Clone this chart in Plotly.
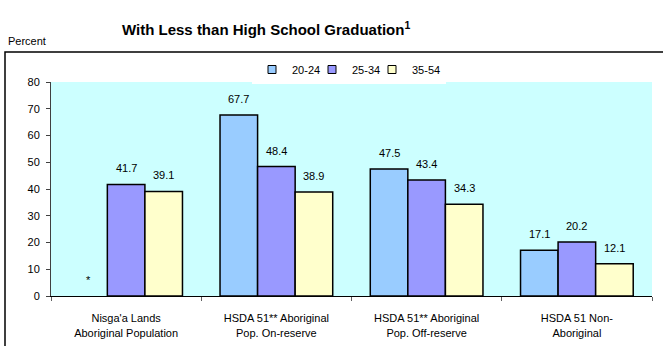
import plotly.graph_objects as go

categories = ["Nisga'a Lands<br>Aboriginal Population",
              "HSDA 51** Aboriginal<br>Pop. On-reserve",
              "HSDA 51** Aboriginal<br>Pop. Off-reserve",
              "HSDA 51 Non-<br>Aboriginal"]
series_names = ["20-24", "25-34", "35-54"]
values_20_24 = [None, 67.7, 47.5, 17.1]
values_25_34 = [41.7, 48.4, 43.4, 20.2]
values_35_54 = [39.1, 38.9, 34.3, 12.1]
y_ticks = [0, 10, 20, 30, 40, 50, 60, 70, 80]

series_values = [values_20_24, values_25_34, values_35_54]
colors = ["#99CCFF", "#9999FF", "#FFFFCC"]
FONT = "Liberation Sans, Arial, sans-serif"
FS = 11

fig = go.Figure()
for name, vals, col in zip(series_names, series_values, colors):
    fig.add_trace(go.Bar(
        x=categories, y=vals, name=name,
        marker=dict(color=col, line=dict(color="#000000", width=1.5)),
        showlegend=False, hoverinfo="skip"))
for k, (name, col) in enumerate(zip(series_names, colors)):
    extra = {"legendwidth": 15} if k < len(series_names) - 1 else {}
    fig.add_trace(go.Scatter(
        x=[None], y=[None], mode="markers", name=name,
        marker=dict(symbol="square", size=8, color=col, line=dict(color="#000000", width=1)),
        **extra))

# data labels
annotations = []
bar_px = 37.5
for i, vals in enumerate(series_values):
    for cat, v in zip(categories, vals):
        annotations.append(dict(
            x=cat, y=v if v is not None else 0, xref="x", yref="y",
            text=f"{v:.1f}" if v is not None else "*",
            showarrow=False, yanchor="bottom", xanchor="center",
            xshift=(i - 1) * bar_px, yshift=8,
            font=dict(family=FONT, size=FS, color="#000000")))

PL, PR, PT, PB = 51, 652, 82, 296
def px_x(p):
    return (p - PL) / (PR - PL)
def px_y(p):
    return (PB - p) / (PB - PT)

annotations.append(dict(
    x=px_x(266), y=px_y(28), xref="paper", yref="paper",
    text="<b>With Less than High School Graduation<sup>1</sup></b>",
    showarrow=False, xanchor="center", yanchor="middle",
    font=dict(family=FONT, size=15, color="#000000")))
annotations.append(dict(
    x=px_x(6), y=px_y(41), xref="paper", yref="paper",
    text="Percent", showarrow=False, xanchor="left", yanchor="middle",
    font=dict(family=FONT, size=FS, color="#000000")))

fig.update_layout(
    width=663, height=346,
    margin=dict(l=PL, r=663 - PR, t=PT, b=346 - PB, autoexpand=False),
    paper_bgcolor="#FFFFFF", plot_bgcolor="#CCFFFF",
    barmode="group", bargap=0.25, bargroupgap=0,
    font=dict(family=FONT, size=FS, color="#000000"),
    annotations=annotations,
    legend=dict(orientation="h", x=px_x(252), y=px_y(84), xanchor="left", yanchor="bottom",
                bgcolor="#FFFFFF", borderwidth=0, font=dict(family=FONT, size=FS),
                itemwidth=30, tracegroupgap=0),
    shapes=[dict(type="rect", xref="paper", yref="paper",
                 x0=px_x(5), x1=px_x(680), y0=px_y(370), y1=px_y(52),
                 line=dict(color="#000000", width=1.5), fillcolor="rgba(0,0,0,0)", layer="below")],
    showlegend=True,
)
fig.update_xaxes(showline=True, linecolor="#000000", linewidth=1, ticks="outside",
                 tickson="boundaries", ticklen=4, tickcolor="#606060", automargin=False,
                 ticklabelstandoff=12,
                 showgrid=False, tickfont=dict(size=FS), fixedrange=True)
fig.update_yaxes(range=[0, 80], tickvals=y_ticks, showline=True, linecolor="#404040",
                 linewidth=1, ticks="outside", ticklen=4, tickcolor="#404040", automargin=False,
                 ticklabelstandoff=4,
                 showgrid=False, zeroline=False, tickfont=dict(size=FS), fixedrange=True)

fig.write_html("out.html", config={"displayModeBar": False},
               post_script="document.body.style.margin='0';document.body.style.overflow='hidden';")
